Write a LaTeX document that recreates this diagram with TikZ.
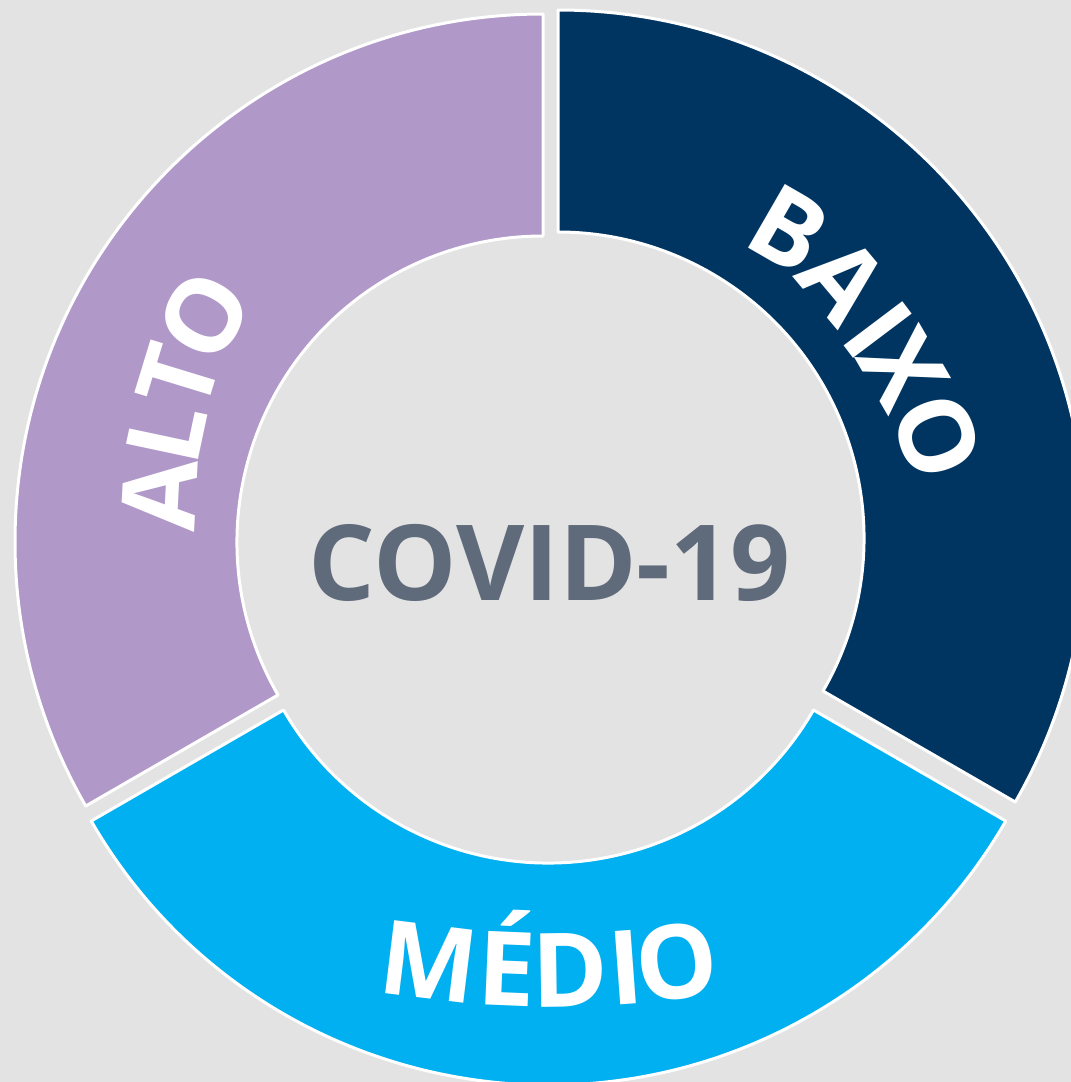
\documentclass[tikz,border=0pt]{standalone}
\usepackage{fontspec}
\setmainfont{Open Sans}
\usetikzlibrary{calc}
\definecolor{bgc}{HTML}{E3E3E3}
\definecolor{altoc}{HTML}{B098C8}
\definecolor{baixoc}{HTML}{003562}
\definecolor{medioc}{HTML}{00B0F0}
\definecolor{covidc}{HTML}{5F6B7A}
\tikzset{
  seg/.style={draw=white, line width=3pt, line join=round},
  ringletter/.style={text=white, inner sep=0pt, anchor=center,
    font=\bfseries\fontsize{103}{103}\selectfont, text height=73.5pt, text depth=0pt},
  title/.style={text=covidc, inner sep=0pt, anchor=center,
    font=\bfseries\fontsize{105}{105}\selectfont, text height=75pt, text depth=0pt}
}
\begin{document}
\begin{tikzpicture}[x=1pt,y=1pt]
\useasboundingbox (0,0) rectangle (1071,-1082);
\fill[bgc] (0,0) rectangle (1071,-1082);
\clip (0,0) rectangle (1071,-1082);
\def\Ro{528}
\def\Ri{306}
\coordinate (cA) at (543,-542);
\coordinate (cB) at (558,-538);
\coordinate (cM) at (548.5,-557);
% ALTO
\draw[seg, fill=altoc] ($(cA)+(90:\Ro)$) arc[start angle=90, end angle=210, radius=\Ro]
  -- ($(cA)+(210:\Ri)$) arc[start angle=210, end angle=90, radius=\Ri] -- cycle;
% BAIXO
\draw[seg, fill=baixoc] ($(cB)+(90:\Ro)$) arc[start angle=90, end angle=-30, radius=\Ro]
  -- ($(cB)+(-30:\Ri)$) arc[start angle=-30, end angle=90, radius=\Ri] -- cycle;
% MEDIO
\draw[seg, fill=medioc] ($(cM)+(210:\Ro)$) arc[start angle=210, end angle=330, radius=\Ro]
  -- ($(cM)+(330:\Ri)$) arc[start angle=330, end angle=210, radius=\Ri] -- cycle;
% centre title
\node[title] (covid) at (549.5,-562.5) {COVID-19};
% BAIXO letters
\node[ringletter, rotate=-30] (b1) at (789,-229) {B};
\node[ringletter, rotate=-50] (b2) at (843,-280) {A};
\node[ringletter, rotate=-53] (b3) at (878,-330) {I};
\node[ringletter, rotate=-60] (b4) at (903,-369) {X};
\node[ringletter, rotate=-70] (b5) at (937,-436) {O};
% ALTO letters
\node[ringletter, rotate=87] (a1) at (160,-495) {A};
\node[ringletter, rotate=78] (a2) at (167,-432) {L};
\node[ringletter, rotate=73] (a3) at (178,-377) {T};
\node[ringletter, rotate=61] (a4) at (204,-316) {O};
% MEDIO letters
\node[ringletter, rotate=-7] (m1) at (429,-962.4) {M};
\node[ringletter, rotate=-2.4] (m2) at (507,-969.1) {É};
\node[ringletter, rotate=0.8] (m3) at (570,-969.9) {D};
\node[ringletter, rotate=4.2] (m4) at (626,-967.2) {I};
\node[ringletter, rotate=7] (m5) at (677,-962.4) {O};
\end{tikzpicture}
\end{document}
